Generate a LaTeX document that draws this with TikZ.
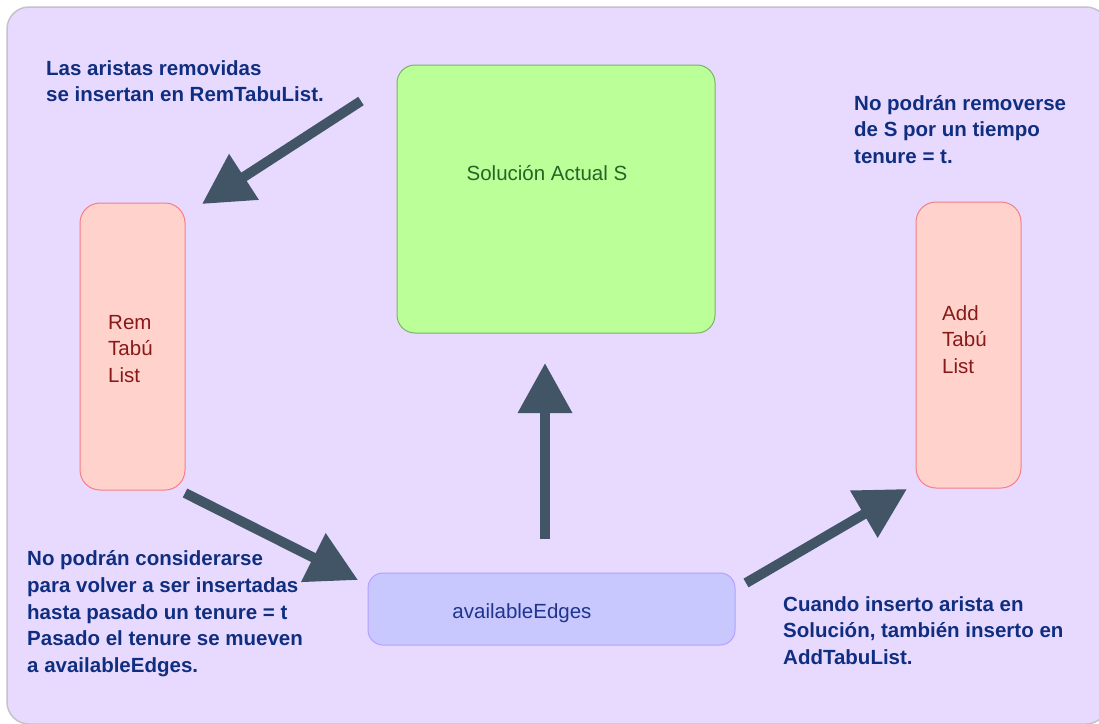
\documentclass[tikz,border=0pt]{standalone}
\usepackage{fontspec}
\setmainfont{Liberation Sans}
\usetikzlibrary{arrows.meta}

\definecolor{panelbg}{RGB}{232,218,255}
\definecolor{panelline}{RGB}{196,196,200}
\definecolor{solfill}{RGB}{187,255,153}
\definecolor{solline}{RGB}{122,180,100}
\definecolor{soltext}{RGB}{38,100,38}
\definecolor{tabufill}{RGB}{255,211,204}
\definecolor{tabuline}{RGB}{245,125,135}
\definecolor{tabutext}{RGB}{135,25,25}
\definecolor{availfill}{RGB}{200,200,255}
\definecolor{availline}{RGB}{180,160,255}
\definecolor{availtext}{RGB}{32,52,140}
\definecolor{notetext}{RGB}{16,46,128}
\definecolor{arrowc}{RGB}{66,85,102}

\tikzset{
  box/.style={draw, line width=1pt, rounded corners=18pt, inner sep=0pt},
  note/.style={anchor=north west, inner sep=0pt, align=left, text=notetext,
    font=\fontsize{20.5}{26.7}\selectfont\bfseries},
  boxlabel/.style={inner sep=0pt, align=left, font=\fontsize{20.5}{26.5}\selectfont},
  bigarrow/.style={line width=10pt, arrowc, -{Triangle[length=50pt,width=52pt]}}
}

\begin{document}
\begin{tikzpicture}[x=1pt, y=-1pt]
  \useasboundingbox (0,0) rectangle (1099,723);
  \fill[white] (0,0) rectangle (1099,723);

  % panel
  \draw[fill=panelbg, draw=panelline, line width=1.5pt, rounded corners=22pt]
    (7,7) rectangle (1108,724);

  % boxes
  \node[box, fill=solfill, draw=solline, minimum width=318pt, minimum height=268pt]
    (sol) at (556,199) {};
  \node[boxlabel, text=soltext, anchor=base] (soltxt) at (547,180) {Solución Actual S};

  \node[box, fill=tabufill, draw=tabuline, minimum width=105pt, minimum height=287pt,
    rounded corners=20pt] (rem) at (132.5,346.5) {};
  \node[boxlabel, text=tabutext, anchor=base west] (remtxt) at (108,382) {Rem\\Tabú\\List};

  \node[box, fill=tabufill, draw=tabuline, minimum width=105pt, minimum height=286pt,
    rounded corners=20pt] (add) at (968.5,345) {};
  \node[boxlabel, text=tabutext, anchor=base west] (addtxt) at (942,373) {Add\\Tabú\\List};

  \node[box, fill=availfill, draw=availline, minimum width=367pt, minimum height=72pt,
    rounded corners=15pt] (avail) at (551.5,609) {};
  \node[boxlabel, text=availtext, anchor=base] (availtxt) at (522,618) {availableEdges};

  % notes
  \node[note] (t1) at (46,60) {Las aristas removidas\\se insertan en RemTabuList.};
  \node[note] (t2) at (854,95) {No podrán removerse\\de S por un tiempo\\tenure = t.};
  \node[note] (t3) at (27,550.5) {No podrán considerarse\\para volver a ser insertadas\\hasta pasado un tenure = t\\Pasado el tenure se mueven\\a availableEdges.};
  \node[note] (t4) at (783,596) {Cuando inserto arista en\\Solución, también inserto en\\AddTabuList.};

  % connector ends
  \coordinate (a1s) at (361,101);
  \coordinate (a1e) at (202,204);
  \coordinate (a2s) at (185,493);
  \coordinate (a2e) at (358,580);
  \coordinate (a3s) at (545,539);
  \coordinate (a3e) at (545,363);
  \coordinate (a4s) at (746,583);
  \coordinate (a4e) at (907,489);

  % arrows
  \draw[bigarrow] (a1s) -- (a1e);
  \draw[bigarrow] (a2s) -- (a2e);
  \draw[bigarrow] (a3s) -- (a3e);
  \draw[bigarrow] (a4s) -- (a4e);
\end{tikzpicture}
\end{document}
